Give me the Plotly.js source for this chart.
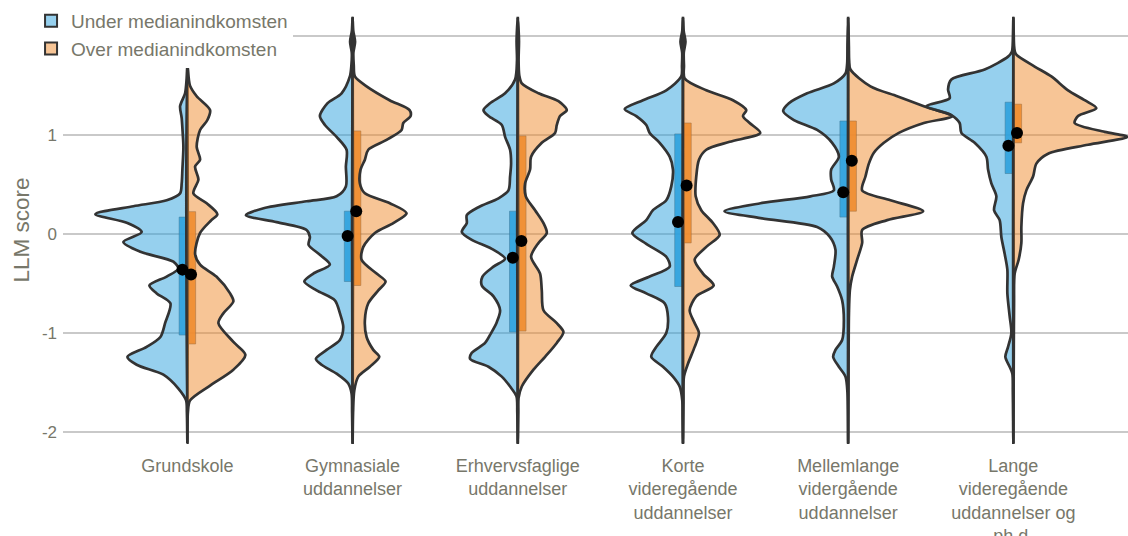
<!DOCTYPE html>
<html><head><meta charset="utf-8">
<script src="https://cdn.plot.ly/plotly-3.0.1.min.js"></script>
<style>html,body{margin:0;padding:0;background:#fff}#chart{width:1128px;height:536px}</style>
</head><body><div id="chart"></div>
<script>
// ---------- DATA ----------
const categories = [
  "Grundskole",
  "Gymnasiale<br>uddannelser",
  "Erhvervsfaglige<br>uddannelser",
  "Korte<br>videregående<br>uddannelser",
  "Mellemlange<br>vidergående<br>uddannelser",
  "Lange<br>videregående<br>uddannelser og<br>ph.d."
];
const groupNames = ["Under medianindkomsten", "Over medianindkomsten"];

// density profiles: [LLM score, density]
const densUnder_Grundskole = [[1.71,0],[1.56,0.8],[1.42,2.3],[1.29,7.3],[1.17,5.7],[1.02,4.7],[0.88,4],[0.65,5],[0.51,5.7],[0.41,7.3],[0.34,20.7],[0.28,54],[0.2,92],[0.11,60],[0.02,45.7],[-0.08,64],[-0.18,47],[-0.28,14],[-0.35,9],[-0.43,20.7],[-0.52,38],[-0.6,30.7],[-0.7,17],[-0.9,22.3],[-1.04,27],[-1.14,40.7],[-1.24,60],[-1.32,50.7],[-1.42,24],[-1.56,9],[-1.68,1.3],[-1.8,0.5],[-2.11,0]];
const densOver_Grundskole = [[1.71,0],[1.5,2.5],[1.39,9.3],[1.25,22.7],[1.15,20],[1.05,12.7],[0.88,9.3],[0.75,12.7],[0.68,7.7],[0.55,11],[0.41,6],[0.31,19.3],[0.2,30],[0.14,24],[0.01,12.7],[-0.2,7.7],[-0.31,12.7],[-0.43,29],[-0.6,42.7],[-0.68,46],[-0.8,36],[-0.9,31],[-1.09,46],[-1.22,58],[-1.37,46],[-1.53,22.7],[-1.68,2.7],[-1.8,0.5],[-2.11,0]];
const densUnder_Gymnasiale = [[2.18,0],[2.05,0.7],[1.94,2.5],[1.83,0.8],[1.7,1.2],[1.59,2.7],[1.42,11],[1.32,25],[1.19,32.7],[1.1,27.7],[0.98,16],[0.85,6],[0.68,6.7],[0.48,6.7],[0.38,16],[0.33,46],[0.26,89],[0.19,106.7],[0.12,76],[0.04,46],[-0.03,42.7],[-0.11,44],[-0.21,32.7],[-0.31,22.7],[-0.4,39.3],[-0.48,48.3],[-0.57,36],[-0.67,17.7],[-0.8,12.7],[-0.94,9.3],[-1.07,12.7],[-1.17,26],[-1.26,36.7],[-1.32,31],[-1.41,16],[-1.51,4.3],[-1.61,1],[-1.8,0.5],[-2.11,0]];
const densOver_Gymnasiale = [[2.18,0],[2.05,0.7],[1.94,2.5],[1.83,0.8],[1.7,1.2],[1.59,2.3],[1.49,14],[1.35,37],[1.25,57],[1.19,58],[1.12,50.7],[1.05,49],[0.95,34],[0.85,15.7],[0.75,12.3],[0.65,8],[0.51,7.3],[0.41,12.3],[0.31,37.3],[0.21,54],[0.11,40.7],[0.01,22.3],[-0.13,10.7],[-0.26,9],[-0.4,24],[-0.48,33],[-0.57,25.7],[-0.7,15.7],[-0.87,12.3],[-1.04,14],[-1.17,20.7],[-1.24,26.7],[-1.34,17.3],[-1.44,5.7],[-1.58,1.7],[-1.8,0.5],[-2.11,0]];
const densUnder_Erhverv = [[2.18,0],[1.95,1.2],[1.75,0.8],[1.56,2.7],[1.42,12.7],[1.32,27.7],[1.25,34.3],[1.19,29.3],[1.1,16],[0.98,12.7],[0.85,7.7],[0.71,6.7],[0.58,7.7],[0.44,9.3],[0.36,19.3],[0.27,39.3],[0.19,51],[0.11,51],[0.02,56],[-0.06,46],[-0.15,26],[-0.25,12.7],[-0.33,24.3],[-0.43,35.3],[-0.52,36],[-0.63,24.3],[-0.77,17.7],[-0.89,21],[-1.0,26.7],[-1.1,32.7],[-1.2,46],[-1.26,47.7],[-1.34,29.3],[-1.44,16],[-1.54,7.7],[-1.64,1.3],[-1.8,0.5],[-2.11,0]];
const densOver_Erhverv = [[2.18,0],[1.95,1.2],[1.75,0.8],[1.6,1.5],[1.52,4],[1.42,20.7],[1.34,40.7],[1.25,49],[1.19,42.3],[1.1,39],[1.02,37.3],[0.92,24],[0.78,13.3],[0.65,12.3],[0.51,7.3],[0.38,8],[0.24,17.3],[0.11,25.7],[0.01,29],[-0.09,20.7],[-0.23,13.3],[-0.4,22.3],[-0.57,24],[-0.77,25.7],[-0.9,39],[-0.99,45.7],[-1.1,39],[-1.24,27.3],[-1.37,15.7],[-1.54,4],[-1.66,0.7],[-1.8,0.5],[-2.11,0]];
const densUnder_Korte = [[2.18,0],[2.05,0.7],[1.94,2.5],[1.83,0.8],[1.7,1],[1.59,1.7],[1.45,16.7],[1.35,40],[1.26,58.3],[1.19,46.7],[1.1,36.7],[1.02,33.3],[0.92,23.3],[0.78,13.3],[0.65,10],[0.48,11.7],[0.34,16.7],[0.24,30],[0.14,36.7],[0.01,50.7],[-0.1,36.7],[-0.23,16.7],[-0.33,13.3],[-0.43,33.3],[-0.52,52.3],[-0.6,36.7],[-0.7,18.3],[-0.84,15],[-1.0,16.7],[-1.14,26.7],[-1.24,31.7],[-1.34,20],[-1.44,10],[-1.54,3.3],[-1.68,0.7],[-1.85,0.4],[-2.11,0]];
const densOver_Korte = [[2.18,0],[2.05,0.7],[1.94,2.5],[1.83,0.8],[1.7,1],[1.57,1.7],[1.45,23.3],[1.35,50],[1.25,63.3],[1.19,60],[1.12,66.7],[1.02,77.3],[0.93,46.7],[0.85,23.3],[0.75,16],[0.58,13.3],[0.38,12.7],[0.24,18.3],[0.11,30],[-0.01,36.7],[-0.13,23.3],[-0.26,11.7],[-0.4,20],[-0.52,30.7],[-0.63,13.3],[-0.77,6.7],[-0.9,11.7],[-1.0,16],[-1.14,11.7],[-1.31,5],[-1.44,1],[-1.7,0.5],[-2.11,0]];
const densUnder_Mellemlange = [[2.18,0],[1.9,0.7],[1.72,1],[1.62,2.7],[1.52,14.3],[1.42,41],[1.32,59.3],[1.24,65],[1.15,54.3],[1.05,31],[0.92,16],[0.78,9.3],[0.65,17],[0.55,17],[0.44,14.3],[0.38,37.7],[0.31,87.7],[0.23,123.7],[0.16,87.7],[0.07,31],[-0.03,18.3],[-0.16,12.7],[-0.33,14.3],[-0.43,16],[-0.53,11],[-0.67,6],[-0.87,4.3],[-1.07,6],[-1.17,12.7],[-1.24,15],[-1.34,9.3],[-1.44,2.7],[-1.6,0.7],[-2.11,0]];
const densOver_Mellemlange = [[2.18,0],[1.9,0.7],[1.75,1],[1.66,2.3],[1.49,22.3],[1.39,49],[1.29,75.7],[1.19,104],[1.12,75.7],[1.02,50.7],[0.92,35.7],[0.82,25.7],[0.71,20.7],[0.58,17.3],[0.44,14],[0.34,42.3],[0.23,75],[0.14,39],[0.04,14],[-0.09,14],[-0.26,9],[-0.43,4],[-0.57,1.7],[-0.8,0.8],[-1.1,0.5],[-2.11,0]];
const densUnder_Lange = [[2.18,0],[1.9,0.7],[1.84,1.5],[1.79,5.3],[1.66,28.7],[1.56,62],[1.46,65.3],[1.37,63.7],[1.29,87],[1.2,62],[1.12,53.7],[1.02,52],[0.92,38.7],[0.78,27],[0.65,25.3],[0.51,22],[0.38,17],[0.24,19.3],[0.14,13.7],[-0.03,12],[-0.2,8.7],[-0.36,6],[-0.6,6],[-0.83,3.7],[-1.0,2],[-1.14,5.3],[-1.24,8],[-1.34,3.7],[-1.41,1],[-1.6,0.5],[-2.11,0]];
const densOver_Lange = [[2.18,0],[1.9,0.7],[1.84,1.5],[1.81,3],[1.69,21.3],[1.59,38],[1.45,54.7],[1.35,71.3],[1.27,83],[1.19,64.7],[1.12,61.3],[1.03,91.3],[0.98,114],[0.9,74.7],[0.81,34.7],[0.71,23],[0.58,19.7],[0.44,13],[0.31,9.7],[0.07,8],[-0.09,8],[-0.26,5.3],[-0.4,1.3],[-0.7,0.7],[-1.0,0.5],[-2.11,0]];

// box (interquartile) and mean values
const q1Under   = [-1.02, -0.48, -0.99, -0.53, 0.17, 0.61];
const q3Under   = [0.17, 0.23, 0.23, 1.01, 1.14, 1.33];
const meanUnder = [-0.36, -0.02, -0.24, 0.12, 0.42, 0.89];
const q1Over    = [-1.11, -0.52, -0.98, -0.09, 0.23, 0.92];
const q3Over    = [0.225, 1.04, 0.99, 1.12, 1.14, 1.31];
const meanOver  = [-0.41, 0.23, -0.07, 0.49, 0.74, 1.02];

const yTickVals = [-2, -1, 0, 1, 2];
const yTickText = ["-2", "-1", "0", "1", "2"];

// ---------- BUILD ----------
const densUnder = [densUnder_Grundskole, densUnder_Gymnasiale, densUnder_Erhverv, densUnder_Korte, densUnder_Mellemlange, densUnder_Lange];
const densOver  = [densOver_Grundskole, densOver_Gymnasiale, densOver_Erhverv, densOver_Korte, densOver_Mellemlange, densOver_Lange];

const DENS_SCALE = 1 / 165.2;
const BLUE_FILL = "rgba(46,162,222,0.5)";
const ORANGE_FILL = "rgba(240,140,45,0.5)";
const BLUE_BOX = "rgb(46,162,222)";
const ORANGE_BOX = "rgb(240,140,45)";
const OUTLINE = "#333333";
const TXT = "#77776a";
const FONT = "Liberation Sans, Arial, sans-serif";

function halfViolin(profile, idx, side, fill) {
  const xs = [], ys = [];
  profile.forEach(p => { xs.push(idx + side * p[1] * DENS_SCALE); ys.push(p[0]); });
  xs.push(idx); ys.push(profile[0][0]);
  return {
    type: "scatter", mode: "lines", x: xs, y: ys,
    fill: "toself", fillcolor: fill,
    line: {color: OUTLINE, width: 2.7, shape: "spline", smoothing: 0.8},
    showlegend: false, hoverinfo: "skip"
  };
}

const traces = [];
// legend entries
traces.push({type: "bar", x: [null], y: [null], name: groupNames[0], marker: {color: "rgba(46,162,222,0.5)", line: {color: OUTLINE, width: 2}}, showlegend: true});
traces.push({type: "bar", x: [null], y: [null], name: groupNames[1], marker: {color: "rgba(240,140,45,0.5)", line: {color: OUTLINE, width: 2}}, showlegend: true});

categories.forEach((c, i) => {
  traces.push(halfViolin(densUnder[i], i, -1, BLUE_FILL));
  traces.push(halfViolin(densOver[i], i, 1, ORANGE_FILL));
});

const idx = categories.map((c, i) => i);
traces.push({
  type: "bar", x: idx, base: q1Under, y: q3Under.map((v, i) => v - q1Under[i]),
  width: 0.05, offset: -0.05, marker: {color: BLUE_BOX, opacity: 0.9, line: {color: "rgba(70,70,70,0.55)", width: 1}},
  showlegend: false, hoverinfo: "skip"
});
traces.push({
  type: "bar", x: idx, base: q1Over, y: q3Over.map((v, i) => v - q1Over[i]),
  width: 0.05, offset: 0, marker: {color: ORANGE_BOX, opacity: 0.9, line: {color: "rgba(70,70,70,0.55)", width: 1}},
  showlegend: false, hoverinfo: "skip"
});
traces.push({
  type: "scatter", mode: "markers", x: idx.map(i => i - 0.03), y: meanUnder,
  marker: {color: "#000", size: 12}, showlegend: false, hoverinfo: "skip"
});
traces.push({
  type: "scatter", mode: "markers", x: idx.map(i => i + 0.022), y: meanOver,
  marker: {color: "#000", size: 12}, showlegend: false, hoverinfo: "skip"
});

const layout = {
  width: 1128, height: 536,
  margin: {l: 63, r: 0, t: 16.2, b: 92.1, autoexpand: false},
  paper_bgcolor: "#fff", plot_bgcolor: "#fff",
  font: {family: FONT, color: TXT},
  barmode: "overlay",
  showlegend: true,
  legend: {
    x: -0.03, xanchor: "left", y: 1.033, yanchor: "top",
    bgcolor: "#fff", font: {size: 19, color: TXT, family: FONT},
    tracegroupgap: 0
  },
  xaxis: {
    range: [-0.753, 5.694], tickvals: idx, ticktext: categories,
    showgrid: false, zeroline: false, showline: false, ticks: "",
    tickfont: {size: 18, color: TXT, family: FONT},
    ticklabelstandoff: 9, fixedrange: true
  },
  yaxis: {
    range: [-2.12, 2.2], tickvals: yTickVals, ticktext: yTickText,
    showgrid: true, gridcolor: "#c9c9c9", gridwidth: 1.5,
    zeroline: false, showline: false, ticks: "",
    tickfont: {size: 17, color: TXT, family: FONT},
    ticklabelstandoff: 5,
    title: {text: "LLM score", font: {size: 22.5, color: TXT, family: FONT}, standoff: 6},
    fixedrange: true
  }
};

Plotly.newPlot("chart", traces, layout, {staticPlot: true, displayModeBar: false});
</script>
</body></html>
